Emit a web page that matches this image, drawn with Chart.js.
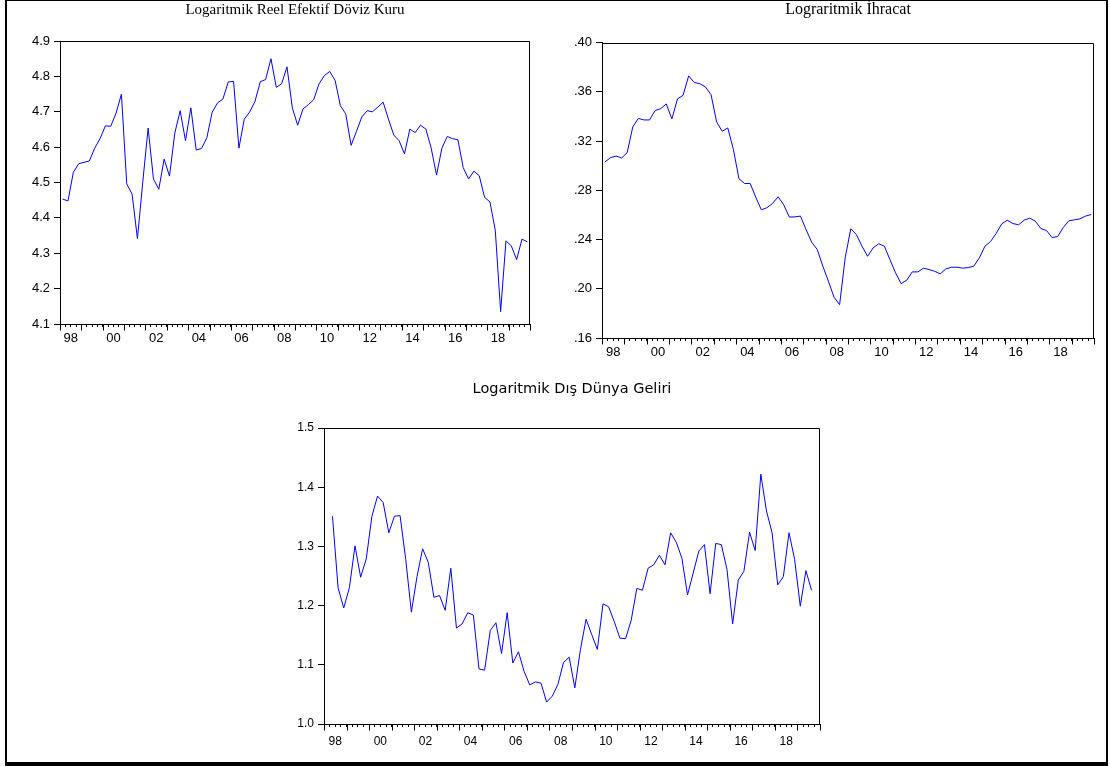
<!DOCTYPE html>
<html>
<head>
<meta charset="utf-8">
<script src="https://cdn.jsdelivr.net/npm/chart.js@4.4.1/dist/chart.umd.min.js"></script>
<style>
  html,body{margin:0;padding:0;background:#fff;}
  body{width:1110px;height:766px;position:relative;overflow:hidden;}
  .page-frame{position:absolute;left:5px;top:0;width:1103px;height:766px;box-sizing:border-box;
    border:2px solid #000;border-top-width:1px;border-bottom-width:4px;}
  canvas{position:absolute;}
  #c1{left:0;top:0;}
  #c2{left:550px;top:0;}
  #c3{left:260px;top:370px;}
</style>
</head>
<body>
<div class="page-frame"></div>
<canvas id="c1" width="550" height="365"></canvas>
<canvas id="c2" width="560" height="375"></canvas>
<canvas id="c3" width="580" height="390"></canvas>
<script>
// quarterly 1998Q1 .. 2019Q4
const quarterCount = 88;
const yearTickLabels = ['98','00','02','04','06','08','10','12','14','16','18'];

// Logaritmik Reel Efektif Döviz Kuru
const rerValues = [
  4.453,4.448,4.529,4.553,4.557,4.561,4.597,4.624,4.660,4.659,4.696,4.750,
  4.496,4.467,4.341,4.502,4.654,4.510,4.481,4.566,4.518,4.640,4.703,4.618,
  4.711,4.592,4.596,4.627,4.699,4.725,4.736,4.784,4.786,4.597,4.679,4.699,
  4.729,4.785,4.791,4.850,4.769,4.779,4.827,4.711,4.662,4.708,4.720,4.734,
  4.779,4.802,4.814,4.789,4.717,4.694,4.605,4.644,4.685,4.703,4.700,4.713,
  4.727,4.679,4.634,4.618,4.581,4.651,4.641,4.662,4.651,4.597,4.521,4.597,
  4.630,4.624,4.621,4.542,4.510,4.532,4.519,4.458,4.445,4.365,4.135,4.335,
  4.321,4.282,4.340,4.332
];

// Lograritmik İhracat
const exportValues = [
  0.3029,0.3064,0.3078,0.3062,0.3105,0.3314,0.3384,0.3371,0.3371,0.3447,0.3463,0.3501,
  0.3379,0.3542,0.3571,0.3729,0.3675,0.3666,0.3639,0.3577,0.3355,0.3279,0.3306,0.3132,
  0.2893,0.2855,0.2855,0.2744,0.2641,0.2658,0.2693,0.2747,0.2682,0.2582,0.2584,0.2590,
  0.2481,0.2378,0.2319,0.2183,0.2061,0.1931,0.1871,0.2253,0.2487,0.2440,0.2346,0.2264,
  0.2332,0.2365,0.2346,0.2237,0.2129,0.2042,0.2069,0.2137,0.2137,0.2167,0.2156,0.2142,
  0.2121,0.2161,0.2175,0.2175,0.2167,0.2172,0.2183,0.2251,0.2346,0.2384,0.2449,0.2527,
  0.2557,0.2530,0.2519,0.2557,0.2573,0.2549,0.2489,0.2473,0.2416,0.2424,0.2497,0.2552,
  0.2560,0.2568,0.2590,0.2603
];

// Logaritmik Dış Dünya Geliri (1998Q1 and 2019Q4 missing)
const worldIncomeValues = [
  null,
  1.351,1.230,1.196,1.230,1.301,1.248,1.279,1.351,1.385,1.374,1.323,1.351,
  1.352,1.278,1.189,1.249,1.296,1.273,1.214,1.217,1.192,1.263,1.162,1.169,
  1.188,1.184,1.093,1.091,1.158,1.171,1.119,1.188,1.103,1.122,1.089,1.066,
  1.071,1.069,1.037,1.047,1.067,1.104,1.113,1.061,1.126,1.177,1.151,1.126,
  1.203,1.198,1.173,1.145,1.144,1.175,1.229,1.226,1.263,1.269,1.285,1.269,
  1.323,1.307,1.280,1.218,1.255,1.292,1.303,1.220,1.305,1.303,1.261,1.169,
  1.243,1.258,1.324,1.293,1.422,1.360,1.323,1.235,1.249,1.323,1.278,1.199,
  1.259,1.226,
  null
];

const toPoints = vals => vals.map((v,i)=>({x:i+0.5, y:v}));

// closes the box and draws the long yearly ticks
const frameTicks = {
  id:'frameTicks',
  afterDraw(chart){
    const {ctx, chartArea:a} = chart;
    const x = chart.scales.x;
    const L = Math.round(a.left)+0.5, R = Math.round(a.right)-0.5;
    const T = Math.round(a.top)+0.5, B = Math.round(a.bottom)+0.5;
    ctx.save();
    ctx.strokeStyle = '#000'; ctx.lineWidth = 1;
    ctx.beginPath();
    ctx.moveTo(L,T); ctx.lineTo(R,T); ctx.lineTo(R,B);
    for(let v=0; v<=quarterCount; v+=4){
      const px = Math.round(x.getPixelForValue(v))+0.5;
      ctx.moveTo(px,B); ctx.lineTo(px,B+6);
    }
    ctx.stroke();
    ctx.restore();
  }
};

Chart.defaults.font.family = '"Liberation Sans", Arial, sans-serif';
Chart.defaults.font.size = 12;
Chart.defaults.color = '#000';

function makeChart(id, title, titleFont, values, y, g){
  return new Chart(document.getElementById(id), {
    type:'line',
    data:{datasets:[{data:toPoints(values), borderColor:'#0000ff', borderWidth:1,
      pointRadius:0, tension:0, fill:false, spanGaps:false}]},
    options:{
      responsive:false, animation:false, devicePixelRatio:1,
      layout:{padding:{left:0, right:g.padRight, top:0, bottom:0}},
      plugins:{
        legend:{display:false}, tooltip:{enabled:false},
        title:{display:true, text:title, fullSize:false, color:'#000', font:titleFont,
          padding:{top:g.titleTop, bottom:g.titleBottom}}
      },
      scales:{
        x:{type:'linear', min:0, max:quarterCount,
          afterFit(s){ s.height = g.xHeight; },
          grid:{drawOnChartArea:false, tickLength:3, color:'#000'},
          border:{color:'#000'},
          ticks:{stepSize:1, autoSkip:false, maxRotation:0, padding:g.xPad, color:'#000',
            font:{size:g.tickSize},
            callback:v => (v%8===2 ? yearTickLabels[(v-2)/8] : '')}
        },
        y:{min:y.min, max:y.max,
          afterFit(s){ s.width = g.yWidth; },
          grid:{drawOnChartArea:false, tickLength:6, color:'#000'},
          border:{color:'#000'},
          ticks:{stepSize:y.step, padding:4, color:'#000', font:{size:g.tickSize}, callback:y.fmt}
        }
      }
    },
    plugins:[frameTicks]
  });
}

const serif = '"Liberation Serif", "Times New Roman", serif';

makeChart('c1', 'Logaritmik Reel Efektif Döviz Kuru',
  {family:serif, size:15, weight:'normal'}, rerValues,
  {min:4.1, max:4.9, step:0.1, fmt:v => v.toFixed(1)},
  {padRight:20, titleTop:1, titleBottom:22, xHeight:41, yWidth:60, xPad:4, tickSize:13});

makeChart('c2', 'Lograritmik İhracat',
  {family:serif, size:16, weight:'normal'}, exportValues,
  {min:0.16, max:0.40, step:0.04, fmt:v => v.toFixed(2).replace(/^0/, '')},
  {padRight:16, titleTop:0.5, titleBottom:22.8, xHeight:37, yWidth:52, xPad:4, tickSize:13});

makeChart('c3', 'Logaritmik Dış Dünya Geliri',
  {family:'"DejaVu Sans", Verdana, sans-serif', size:14.5, weight:'normal'}, worldIncomeValues,
  {min:1.0, max:1.5, step:0.1, fmt:v => v.toFixed(1)},
  {padRight:20, titleTop:10.3, titleBottom:30.3, xHeight:36, yWidth:64, xPad:7, tickSize:12});
</script>
</body>
</html>
